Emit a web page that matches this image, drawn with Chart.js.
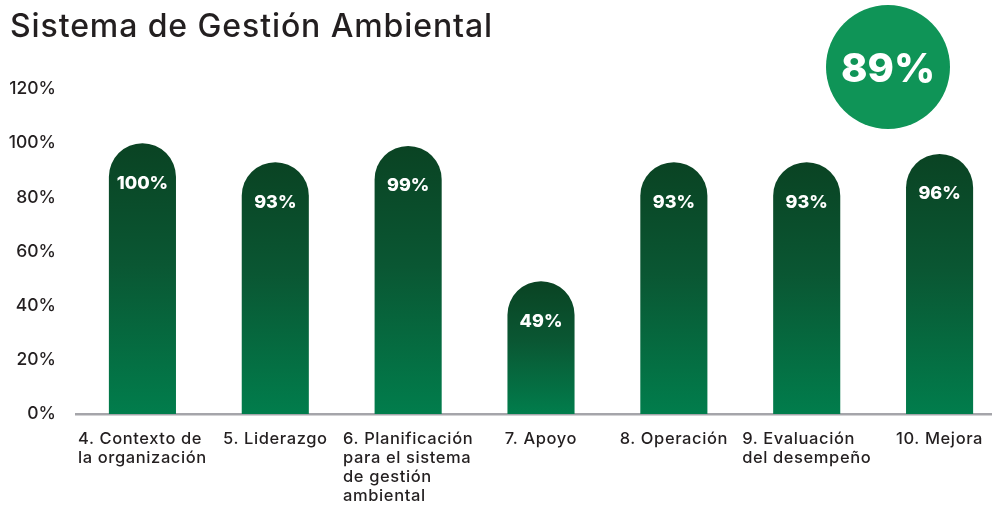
<!DOCTYPE html>
<html lang="es">
<head>
<meta charset="utf-8">
<script src="https://cdn.jsdelivr.net/npm/chart.js@4"></script>
<style>
  html, body { margin: 0; padding: 0; background: #fff; overflow: hidden; }
  #wrap { position: relative; width: 992px; height: 505px; overflow: hidden; }
  #chartBox { position: absolute; left: 0; top: 0; width: 1008px; height: 505px; }
  #title {
    position: absolute; left: 10px; top: 6px;
    font-family: "Inter", "Open Sans", sans-serif; font-size: 32px; font-weight: 500;
    color: #231f20; letter-spacing: 0.9px; white-space: nowrap;
  }
  #badge {
    position: absolute; left: 826px; top: 5px; width: 124px; height: 124px;
    border-radius: 50%; background: #0f9457; color: #fff;
    display: flex; align-items: center; justify-content: center;
    font-family: "Inter", "Open Sans", sans-serif; font-size: 40px; font-weight: 800;
  }
</style>
</head>
<body>
<div id="wrap">
  <div id="chartBox"><canvas id="chart" width="1008" height="505"></canvas></div>
  <div id="title">Sistema de Gestión Ambiental</div>
  <div id="badge"></div>
</div>
<script>
const categorias = [
    ["4. Contexto de", "la organización"],
    ["5. Liderazgo"],
    ["6. Planificación", "para el sistema", "de gestión", "ambiental"],
    ["7. Apoyo"],
    ["8. Operación"],
    ["9. Evaluación", "del desempeño"],
    ["10. Mejora"]
];
const valores = [100, 93, 99, 49, 93, 93, 96];
const ejeYMax = 120;
const ejeYPaso = 20;
const totalGeneral = 89;

const FONT = "'Inter', 'Open Sans', sans-serif";
const TEXT_COLOR = "#231f20";

document.getElementById("badge").innerText = `${totalGeneral}%`;

// gradiente por barra, desde la cima hasta la base
function barGradient(context) {
    const chart = context.chart;
    const { ctx, scales } = chart;
    if (!scales.y) return "#0a5a34";
    const top = scales.y.getPixelForValue(context.raw);
    const bottom = scales.y.getPixelForValue(0);
    if (!isFinite(top) || !isFinite(bottom)) return "#0a5a34";
    const g = ctx.createLinearGradient(0, top, 0, bottom);
    g.addColorStop(0, "#0a4323");
    g.addColorStop(0.45, "#0a5733");
    g.addColorStop(1, "#017d4c");
    return g;
}

const xLabelsPlugin = {
    id: "xLabels",
    afterDraw(chart) {
        const { ctx, scales } = chart;
        const xs = scales.x;
        const base = chart.chartArea.bottom;
        ctx.save();
        ctx.font = `500 16.5px ${FONT}`;
        ctx.letterSpacing = "0.6px";
        ctx.fillStyle = TEXT_COLOR;
        ctx.textAlign = "left";
        ctx.textBaseline = "middle";
        categorias.forEach((lines, i) => {
            const cx = xs.getPixelForValue(i);
            const w = Math.max(...lines.map(l => ctx.measureText(l).width));
            lines.forEach((l, k) => {
                ctx.fillText(l, cx - w / 2, base + 25 + k * 19);
            });
        });
        ctx.restore();
    }
};

const valueLabelsPlugin = {
    id: "valueLabels",
    afterDatasetsDraw(chart) {
        const { ctx } = chart;
        const meta = chart.getDatasetMeta(0);
        ctx.save();
        ctx.font = `800 18px ${FONT}`;
        ctx.fillStyle = "#ffffff";
        ctx.textAlign = "center";
        ctx.textBaseline = "middle";
        meta.data.forEach((bar, i) => {
            ctx.fillText(`${valores[i]}%`, bar.x, bar.y + 40);
        });
        ctx.restore();
    }
};

new Chart(document.getElementById("chart"), {
    type: "bar",
    data: {
        labels: categorias.map(c => c.join(" ")),
        datasets: [{
            data: valores,
            backgroundColor: barGradient,
            borderRadius: { topLeft: 40, topRight: 40, bottomLeft: 0, bottomRight: 0 },
            borderSkipped: "bottom",
            barPercentage: 0.505,
            categoryPercentage: 1
        }]
    },
    options: {
        responsive: false,
        animation: false,
        layout: { padding: { top: 89, bottom: 91, right: 2, left: 0 } },
        plugins: {
            legend: { display: false },
            tooltip: { enabled: false }
        },
        scales: {
            x: {
                grid: { display: false, drawTicks: false },
                border: { display: true, color: "#a5a5aa", width: 2.5 },
                ticks: { display: false }
            },
            y: {
                min: 0,
                max: ejeYMax,
                afterFit: s => { s.width = 76; },
                grid: { display: false, drawTicks: false },
                border: { display: false },
                ticks: {
                    stepSize: ejeYPaso,
                    padding: 20,
                    color: TEXT_COLOR,
                    font: { family: FONT, size: 17.5, weight: 500 },
                    callback: v => `${v}%`
                }
            }
        }
    },
    plugins: [xLabelsPlugin, valueLabelsPlugin]
});
</script>
</body>
</html>
